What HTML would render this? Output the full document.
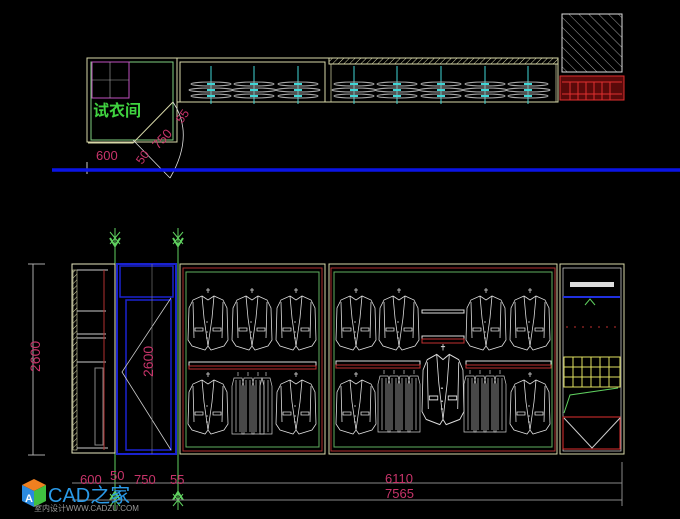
<!DOCTYPE html>
<html><head><meta charset="utf-8"><style>
html,body{margin:0;padding:0;background:#000;}
svg{display:block}
text{font-family:"Liberation Sans","Noto Sans CJK SC",sans-serif;}
</style></head><body>
<svg width="680" height="519" viewBox="0 0 680 519" xmlns="http://www.w3.org/2000/svg">
<defs>
<pattern id="h" width="4" height="4" patternUnits="userSpaceOnUse" patternTransform="rotate(45)">
<line x1="0" y1="0" x2="0" y2="4" stroke="#d8d8a8" stroke-width="1"/></pattern>
<pattern id="h2" width="7" height="7" patternUnits="userSpaceOnUse" patternTransform="rotate(-45)">
<line x1="0" y1="0" x2="0" y2="7" stroke="#ccc" stroke-width="0.8"/></pattern>
<g id="jk" fill="none" stroke="#ddd" stroke-width="0.8">
<path d="M0 0 v5 M-2 2 h4"/>
<path d="M-6 8 L-15 12 L-19 20 L-20 52 L-16 58 L-3 62 L0 58 L3 62 L16 58 L20 52 L19 20 L15 12 L6 8 L0 12 Z"/>
<path d="M-6 8 L-4 30 L0 58 M6 8 L4 30 L0 58 M-15 14 L-14 50 M15 14 L14 50"/>
<path d="M-13 40 h8 v3 h-8z M5 40 h8 v3 h-8z M-2 34 h2 M-2 44 h2 M-2 50 h2"/>
</g>
<g id="sh" fill="none" stroke="#ccc" stroke-width="0.7">
<path d="M0 0 v4 M-4 6 L-6 14 L-6 62 L6 62 L6 14 L4 6 Z M-2 8 v52 M2 8 v52"/>
</g>
<g id="hg" fill="none" stroke="#3fd6d6" stroke-width="1">
<path d="M0 -18 V20"/>
<ellipse cx="0" cy="0" rx="20" ry="2" stroke="#aaa"/>
<ellipse cx="0" cy="6" rx="22" ry="2" stroke="#aaa"/>
<ellipse cx="0" cy="12" rx="20" ry="2" stroke="#aaa"/>
<path d="M-4 0 h8 M-4 6 h8 M-4 12 h8" stroke-width="2"/>
</g>
</defs>

<!-- TOP PLAN -->
<rect x="87" y="58" width="90" height="84" fill="none" stroke="#d8d8a8"/>
<rect x="91" y="62" width="82" height="78" fill="none" stroke="#7fd07f"/>
<rect x="92" y="62" width="37" height="36" fill="none" stroke="#c050c0"/>
<path d="M110 62 V98 M92 80 H129" stroke="#aaa" stroke-width="0.6"/>
<text x="93" y="116" fill="#3fd13f" font-size="16" font-weight="bold">试衣间</text>
<path d="M88 143 H133 L173 102" fill="none" stroke="#d8d8a8"/>
<path d="M133 140 L170 178 M173 102 Q195 135 170 178" fill="none" stroke="#ddd" stroke-width="0.8"/>
<text x="96" y="160" fill="#c8346a" font-size="13">600</text>
<text x="142" y="165" fill="#c8346a" font-size="12" transform="rotate(-55 142 165)">50</text>
<text x="158" y="150" fill="#c8346a" font-size="13" transform="rotate(-47 158 150)">750</text>
<text x="182" y="124" fill="#c8346a" font-size="12" transform="rotate(-55 182 124)">55</text>
<line x1="87" y1="162" x2="87" y2="174" stroke="#ccc"/>

<rect x="177" y="58" width="381" height="44" fill="none" stroke="#d8d8a8"/>
<rect x="329" y="58" width="229" height="6" fill="url(#h)" stroke="#d8d8a8"/>
<rect x="180" y="62" width="145" height="40" fill="none" stroke="#d8d8a8"/>
<rect x="331" y="64" width="225" height="38" fill="none" stroke="#d8d8a8" stroke-width="0.7"/>
<use href="#hg" x="211" y="84"/><use href="#hg" x="254" y="84"/><use href="#hg" x="298" y="84"/>
<use href="#hg" x="354" y="84"/><use href="#hg" x="397" y="84"/><use href="#hg" x="441" y="84"/><use href="#hg" x="485" y="84"/><use href="#hg" x="528" y="84"/>
<rect x="562" y="14" width="60" height="58" fill="url(#h2)" stroke="#ddd"/>
<rect x="560" y="76" width="64" height="24" fill="#5a0a0a" stroke="#e03030"/>
<path d="M562 82 H622 M562 94 H622 M570 82 V100 M578 82 V100 M586 82 V100 M594 82 V100 M602 82 V100 M610 82 V100" stroke="#e03030"/>
<line x1="52" y1="170" x2="680" y2="170" stroke="#0a14e6" stroke-width="3.5"/>

<!-- ELEVATION -->
<line x1="115" y1="228" x2="115" y2="510" stroke="#5fd05f"/>
<line x1="178" y1="228" x2="178" y2="510" stroke="#5fd05f"/>
<path d="M110 232 L120 244 M120 232 L110 244 M173 232 L183 244 M183 232 L173 244 M110 494 L120 506 M120 494 L110 506 M173 494 L183 506 M183 494 L173 506" stroke="#5fd05f" stroke-width="1"/>
<path d="M110 238 L115 246 L120 238 M173 238 L178 246 L183 238 M110 500 L115 492 L120 500 M173 500 L178 492 L183 500" fill="none" stroke="#5fd05f" stroke-width="2"/>
<path d="M33 264 V455 M28 264 H45 M28 455 H45" stroke="#aaa" fill="none"/>
<text x="40" y="372" fill="#c8346a" font-size="14" transform="rotate(-90 40 372)">2600</text>

<rect x="72" y="264" width="43" height="189" fill="none" stroke="#e8e8c0"/>
<rect x="73" y="270" width="4" height="180" fill="url(#h)" stroke="#d8d8a8" stroke-width="0.6"/>
<path d="M77 270 H108 M77 448 H108 M77 311 H106 M77 334 H106 M77 338 H106 M77 362 H106" stroke="#ccc"/>
<path d="M104 270 V450" stroke="#b03030"/>
<rect x="95" y="368" width="8" height="77" fill="none" stroke="#888"/>
<rect x="117" y="264" width="59" height="190" fill="none" stroke="#1a22d0" stroke-width="2"/>
<rect x="120" y="266" width="53" height="31" fill="none" stroke="#1a22d0" stroke-width="1.5"/>
<rect x="126" y="300" width="45" height="150" fill="none" stroke="#1a22d0" stroke-width="1.5"/>
<path d="M171 298 L122 372 L171 450" fill="none" stroke="#ccc" stroke-width="0.8"/>
<line x1="152" y1="264" x2="152" y2="454" stroke="#888" stroke-width="0.6"/>
<text x="153" y="377" fill="#c8346a" font-size="14" transform="rotate(-90 153 377)">2600</text>

<!-- cabinet 1 -->
<rect x="180" y="264" width="145" height="190" fill="none" stroke="#d8d8a8"/>
<rect x="183" y="268" width="139" height="183" fill="none" stroke="#b03030"/>
<rect x="186" y="272" width="133" height="175" fill="none" stroke="#5fb05f"/>
<rect x="189" y="362" width="127" height="4" fill="none" stroke="#ddd"/>
<rect x="189" y="366" width="127" height="3" fill="none" stroke="#c03030"/>
<use href="#jk" x="208" y="288"/><use href="#jk" x="252" y="288"/><use href="#jk" x="296" y="288"/>
<use href="#jk" x="208" y="372"/><use href="#jk" x="296" y="372"/>
<use href="#sh" x="238" y="372"/><use href="#sh" x="248" y="372"/><use href="#sh" x="258" y="372"/><use href="#sh" x="266" y="372"/>

<!-- cabinet 2 -->
<rect x="329" y="264" width="228" height="190" fill="none" stroke="#d8d8a8"/>
<rect x="331" y="268" width="224" height="183" fill="none" stroke="#b03030"/>
<rect x="334" y="272" width="218" height="175" fill="none" stroke="#5fb05f"/>
<rect x="336" y="361" width="84" height="4" fill="none" stroke="#ddd"/>
<rect x="336" y="365" width="84" height="3" fill="none" stroke="#c03030"/>
<rect x="466" y="361" width="85" height="4" fill="none" stroke="#ddd"/>
<rect x="466" y="365" width="85" height="3" fill="none" stroke="#c03030"/>
<rect x="422" y="310" width="42" height="3" fill="none" stroke="#ddd"/>
<rect x="422" y="336" width="42" height="3" fill="none" stroke="#ddd"/>
<rect x="422" y="339" width="42" height="4" fill="none" stroke="#c03030"/>
<use href="#jk" x="356" y="288"/><use href="#jk" x="399" y="288"/><use href="#jk" x="486" y="288"/><use href="#jk" x="530" y="288"/>
<use href="#jk" x="356" y="372"/><use href="#jk" x="530" y="372"/>
<g transform="translate(443 344) scale(1.05 1.3)"><use href="#jk"/></g>
<use href="#sh" x="384" y="370"/><use href="#sh" x="394" y="370"/><use href="#sh" x="404" y="370"/><use href="#sh" x="414" y="370"/>
<use href="#sh" x="470" y="370"/><use href="#sh" x="480" y="370"/><use href="#sh" x="490" y="370"/><use href="#sh" x="500" y="370"/>

<!-- right cabinet -->
<rect x="560" y="264" width="64" height="190" fill="none" stroke="#d8d8a8"/>
<rect x="563" y="268" width="58" height="183" fill="none" stroke="#ddd" stroke-width="0.7"/>
<rect x="570" y="282" width="44" height="5" fill="#ddd"/>
<line x1="563" y1="297" x2="620" y2="297" stroke="#2030e0" stroke-width="2"/>
<path d="M585 305 L590 299 L595 305" stroke="#5fd05f" fill="none"/>
<line x1="566" y1="327" x2="618" y2="327" stroke="#c03030" stroke-dasharray="2 6"/>
<rect x="564" y="357" width="56" height="30" fill="none" stroke="#e0e060"/>
<path d="M573 357 V387 M582 357 V387 M591 357 V387 M600 357 V387 M609 357 V387 M564 367 H620 M564 377 H620" stroke="#e0e060"/>
<path d="M564 413 L570 395 L618 388" stroke="#5fd05f" fill="none"/>
<rect x="563" y="417" width="57" height="32" fill="none" stroke="#e03030"/>
<path d="M564 418 L592 448 L620 418" stroke="#ccc" fill="none"/>

<!-- dimensions -->
<path d="M72 483 H622 M72 500 H622 M622 462 V506" stroke="#888" fill="none"/>
<text x="80" y="484" fill="#c8346a" font-size="13">600</text>
<text x="110" y="480" fill="#c8346a" font-size="13">50</text>
<text x="134" y="484" fill="#c8346a" font-size="13">750</text>
<text x="170" y="484" fill="#c8346a" font-size="13">55</text>
<text x="385" y="483" fill="#c8346a" font-size="13">6110</text>
<text x="385" y="498" fill="#c8346a" font-size="13">7565</text>

<!-- logo -->
<g transform="translate(22 495)">
<path d="M0 -10 L12 -16 L24 -10 L12 -4 Z" fill="#f08020"/>
<path d="M0 -10 L12 -4 L12 12 L0 6 Z" fill="#2a8ae0"/>
<path d="M12 -4 L24 -10 L24 6 L12 12 Z" fill="#40c040"/>
<text x="3" y="7" fill="#fff" font-size="11" font-weight="bold">A</text>
</g>
<text x="48" y="502" fill="#2a9ae8" font-size="20">CAD之家</text>
<text x="34" y="511" fill="#999" font-size="8">室内设计WWW.CADZU.COM</text>
</svg>
</body></html>
